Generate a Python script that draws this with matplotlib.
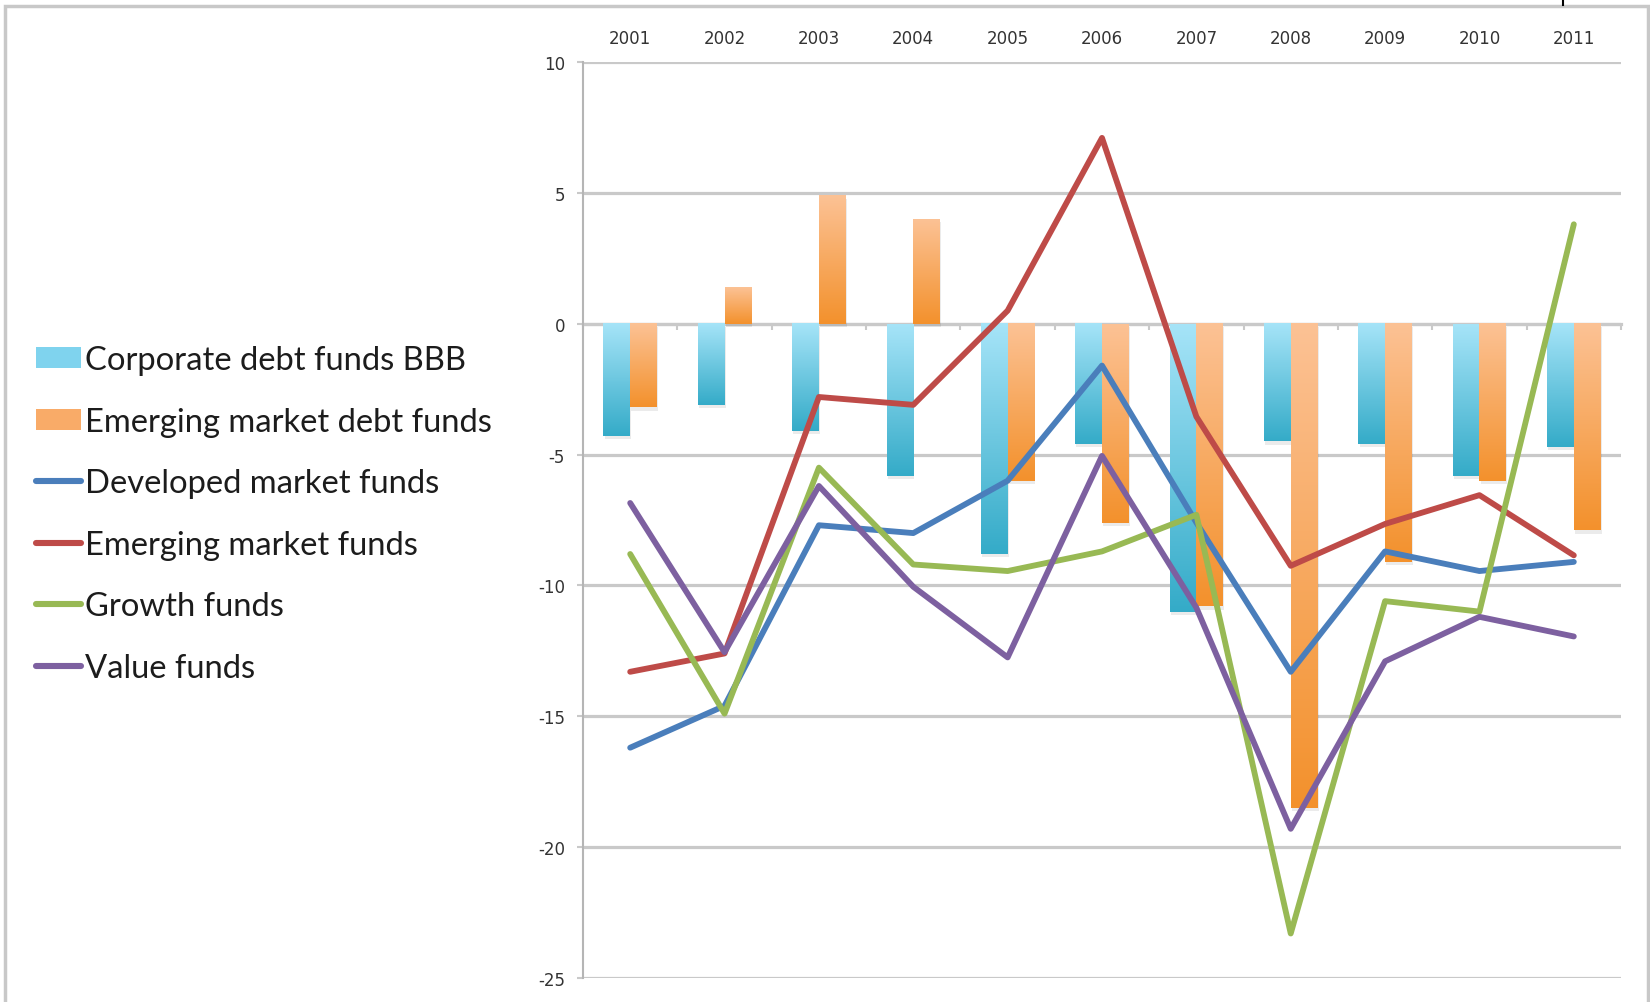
import numpy as np
import matplotlib
matplotlib.use("Agg")
import matplotlib.pyplot as plt
from matplotlib.lines import Line2D
from matplotlib.patches import Rectangle, Patch
from matplotlib.colors import LinearSegmentedColormap

# ---- data -------------------------------------------------------------
years = ["2001", "2002", "2003", "2004", "2005", "2006",
         "2007", "2008", "2009", "2010", "2011"]

corporate_bbb = [-4.3, -3.1, -4.1, -5.8, -8.8, -4.6, -11.0, -4.5, -4.6, -5.8, -4.7]
em_debt = [-3.2, 1.4, 4.9, 4.0, -6.0, -7.6, -10.8, -18.5, -9.1, -6.0, -7.9]

developed = [-16.2, -14.6, -7.7, -8.0, -6.0, -1.6, -7.6, -13.3, -8.7, -9.45, -9.1]
emerging = [-13.3, -12.6, -2.8, -3.1, 0.5, 7.1, -3.55, -9.25, -7.65, -6.55, -8.85]
growth = [-8.8, -14.9, -5.5, -9.2, -9.45, -8.7, -7.3, -23.3, -10.6, -11.0, 3.8]
value = [-6.85, -12.55, -6.2, -10.05, -12.75, -5.05, -10.85, -19.3, -12.9, -11.2, -11.95]

bar_names = ["Corporate debt funds BBB", "Emerging market debt funds"]
line_names = ["Developed market funds", "Emerging market funds",
              "Growth funds", "Value funds"]

y_ticks = [10, 5, 0, -5, -10, -15, -20, -25]

# ---- styling ----------------------------------------------------------
W, H, DPI = 1650, 1003, 100
GRID = "#c9c9c9"
cyan_top, cyan_bottom = "#a6e4f8", "#34abc8"
orange_top, orange_bottom = "#fcc295", "#f3912c"
line_colors = ["#4a7ebb", "#be4b48", "#98b954", "#7d60a0"]

fig = plt.figure(figsize=(W / DPI, H / DPI), dpi=DPI)
fig.patch.set_facecolor("white")

left, right, top, bottom = 583, 1621, 63, 979
ax = fig.add_axes([left / W, (H - bottom) / H, (right - left) / W, (bottom - top) / H])

x = np.arange(len(years))
bw = 0.283


def gradient_bars(ax, xpos, heights, width, c_top, c_bottom):
    bars = ax.bar(xpos, heights, width, color="none", edgecolor="none", zorder=2)
    cmap = LinearSegmentedColormap.from_list("grad", [c_bottom, c_top])
    grad = np.linspace(0, 1, 256).reshape(-1, 1)
    for b in bars:
        x0, y0 = b.get_x(), b.get_y()
        w, h = b.get_width(), b.get_height()
        ylo, yhi = min(y0, y0 + h), max(y0, y0 + h)
        # soft drop shadow
        ax.add_patch(Rectangle((x0 + 0.012, ylo - 0.12), w, yhi - ylo,
                               facecolor="#000000", alpha=0.08,
                               edgecolor="none", zorder=1.9))
        ax.imshow(grad, extent=[x0, x0 + w, ylo, yhi], origin="lower",
                  cmap=cmap, aspect="auto", zorder=2, interpolation="bilinear")
    return bars


gradient_bars(ax, x - bw / 2, corporate_bbb, bw, cyan_top, cyan_bottom)
gradient_bars(ax, x + bw / 2, em_debt, bw, orange_top, orange_bottom)

for series, col in zip([developed, emerging, growth, value], line_colors):
    ax.plot(x, series, color=col, lw=4.2, solid_joinstyle="round",
            solid_capstyle="round", zorder=3)

ax.set_xlim(-0.5, len(years) - 0.5)
ax.set_ylim(-25, 10)
ax.set_aspect("auto")

# y axis / grid
ax.set_yticks(y_ticks)
ax.set_yticklabels([str(v) for v in y_ticks])
ax.yaxis.grid(True, color=GRID, lw=2.3, zorder=0)
ax.set_axisbelow(True)
ax.tick_params(axis="y", length=4, width=1.5, color=GRID, pad=9,
               labelsize=12, labelcolor="#333333")

# category axis: labels above the plot, tick marks on the zero line
ax.set_xticks(x)
ax.set_xticklabels(years)
ax.set_xticks(np.arange(-0.5, len(years)), minor=True)
ax.tick_params(axis="x", which="major", bottom=False, top=False,
               labelbottom=False, labeltop=True, labelsize=12,
               labelcolor="#333333", pad=7)
ax.tick_params(axis="x", which="minor", bottom=True, top=False,
               length=4, width=1.5, color=GRID, direction="out")
ax.spines["bottom"].set_position(("data", 0))
ax.spines["bottom"].set_color(GRID)
ax.spines["bottom"].set_linewidth(2.3)
ax.spines["bottom"].set_zorder(1.5)
ax.spines["left"].set_color("#b5b5b5")
ax.spines["left"].set_linewidth(1.5)
ax.spines["top"].set_visible(False)
ax.spines["right"].set_visible(False)

# legend on the left
handles = [Patch(facecolor="#7fd3ee", edgecolor="none"),
           Patch(facecolor="#f9ab68", edgecolor="none")]
handles += [Line2D([0], [0], color=c, lw=4.4, solid_capstyle="round")
            for c in line_colors]
fig.legend(handles, bar_names + line_names, loc="center left",
           bbox_to_anchor=(36 / W, (H - 515) / H), frameon=False,
           prop={"family": "Lato", "size": 23.6}, labelcolor="#1c1c1c",
           handlelength=1.38, handleheight=0.6, handletextpad=0.12,
           labelspacing=0.96, borderpad=0, borderaxespad=0)

# outer frame of the chart area
fig.add_artist(Rectangle((5 / W, -0.1), (1648 - 5) / W, (H - 7) / H + 0.1,
                         transform=fig.transFigure, fill=False,
                         edgecolor="#c8c8c8", lw=2.5))
fig.add_artist(Line2D([1563 / W, 1563 / W], [1.0, 1 - 6 / H],
                      transform=fig.transFigure, color="black", lw=1.5))

fig.savefig("out.png", dpi=DPI)
